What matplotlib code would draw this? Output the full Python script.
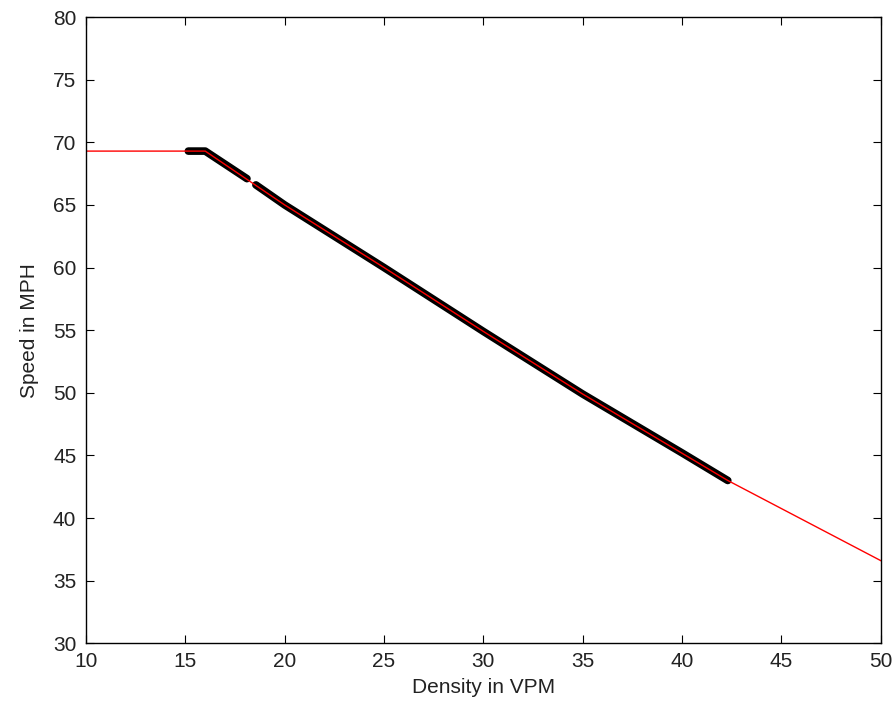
import numpy as np
import matplotlib
matplotlib.use('Agg')
import matplotlib.pyplot as plt

plt.rcParams['font.family'] = ['Liberation Sans', 'DejaVu Sans']

# observed data (dense band of points, read along its centre)
obs_density = [15.15, 16.0, 18.1, np.nan, 18.55, 20.0, 25.0, 30.0, 35.0, 40.0, 42.3]
obs_speed = [69.3, 69.3, 67.1, np.nan, 66.6, 65.0, 60.0, 54.9, 49.9, 45.2, 43.0]

# fitted speed-density curve
fit_density = [10, 16.0, 20.0, 25.0, 30.0, 35.0, 42.3, 50]
fit_speed = [69.3, 69.3, 65.0, 60.0, 54.9, 49.9, 43.0, 36.6]

x_ticks = [10, 15, 20, 25, 30, 35, 40, 45, 50]
y_ticks = [30, 35, 40, 45, 50, 55, 60, 65, 70, 75, 80]

fig = plt.figure(figsize=(8.96, 7.12), dpi=100)
ax = fig.add_axes([0.096, 0.0965, 0.887, 0.8795])

ax.plot(obs_density, obs_speed, color='black', lw=5.5, solid_capstyle='round')
ax.plot(fit_density, fit_speed, color='red', lw=1)

ax.set_xlim(10, 50)
ax.set_ylim(30, 80)
ax.set_xticks(x_ticks)
ax.set_yticks(y_ticks)
ax.tick_params(direction='in', length=6, top=True, right=True, labelsize=15,
               labelcolor='#222222')
ax.tick_params(axis='y', pad=7)
ax.tick_params(axis='x', pad=6)
for s in ax.spines.values():
    s.set_linewidth(1)

ax.set_xlabel('Density in VPM', fontsize=15, labelpad=5, color='#222222')
ax.set_ylabel('Speed in MPH', fontsize=15, labelpad=10, color='#222222')

fig.savefig('out.png', dpi=100)
